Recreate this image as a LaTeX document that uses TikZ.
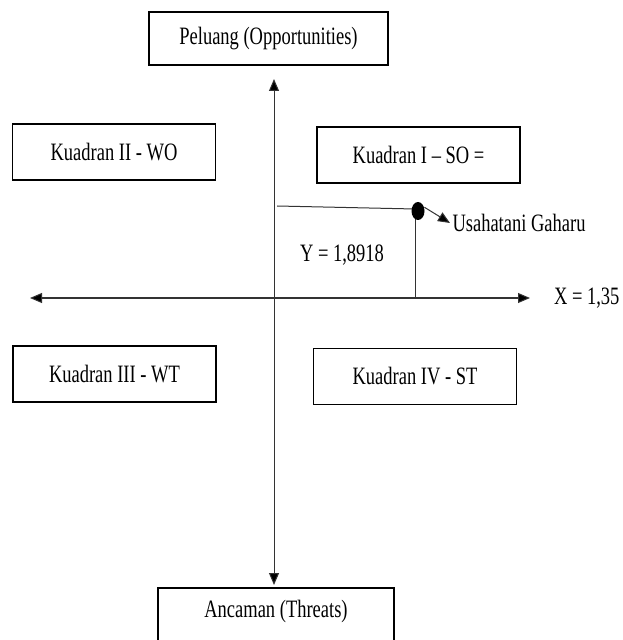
\documentclass[tikz,border=0pt]{standalone}
\usepackage{fontspec}
\setmainfont{Liberation Serif}[FakeStretch=0.74]
\usetikzlibrary{arrows.meta}
\usetikzlibrary{shapes.geometric}

\begin{document}
\begin{tikzpicture}[x=0.5pt,y=-0.5pt,line width=0.5pt,>={Triangle[length=6pt,width=5pt]},
  kotak/.style={draw,line width=0.8pt,minimum width=101.5pt,minimum height=28pt,inner sep=0pt},
  every node/.style={font=\fontsize{12.5}{14}\selectfont}]
  \useasboundingbox (0,0) rectangle (622,640);

  \node[kotak,minimum width=119.5pt,minimum height=26.5pt] (peluang) at (268.5,38.5) {Peluang (Opportunities)};
  \node[kotak,minimum width=118pt,text height=14.75pt,text depth=13.75pt] (ancaman) at (276,616.5) {Ancaman (Threats)};
  \node[kotak] (kuadran2) at (114,152) {Kuadran II - WO};
  \node[kotak] (kuadran1) at (418.5,155) {Kuadran I – SO =};
  \node[kotak] (kuadran3) at (114.5,374) {Kuadran III - WT};
  \node[kotak] (kuadran4) at (415,376.5) {Kuadran IV - ST};

  \coordinate (atas) at (274,79);
  \coordinate (bawah) at (274,585);
  \coordinate (kiri) at (30,298);
  \coordinate (kanan) at (530,298);
  \coordinate (ujungy) at (277,206);
  \coordinate (kaki) at (415,298);
  \coordinate (puncak) at (415,209);

  \node[anchor=west,inner sep=1pt] (gaharu) at (450,223) {Usahatani Gaharu};
  \node (nilaiy) at (342,255) {Y = 1,8918};
  \node[anchor=east,inner sep=0pt] (nilaix) at (620,298) {X = 1,35};

  \path[draw=black!80]
    (atas) edge[<->] (bawah)
    (kiri) edge[<->] (kanan)
    (ujungy) edge (puncak)
    (kaki) edge (puncak);
  \node[ellipse,fill,minimum width=6.5pt,minimum height=9pt,inner sep=0pt] (titik) at (418,211) {};
  \path[draw=black!80] (titik.30) edge[->] (gaharu.west);
\end{tikzpicture}
\end{document}
